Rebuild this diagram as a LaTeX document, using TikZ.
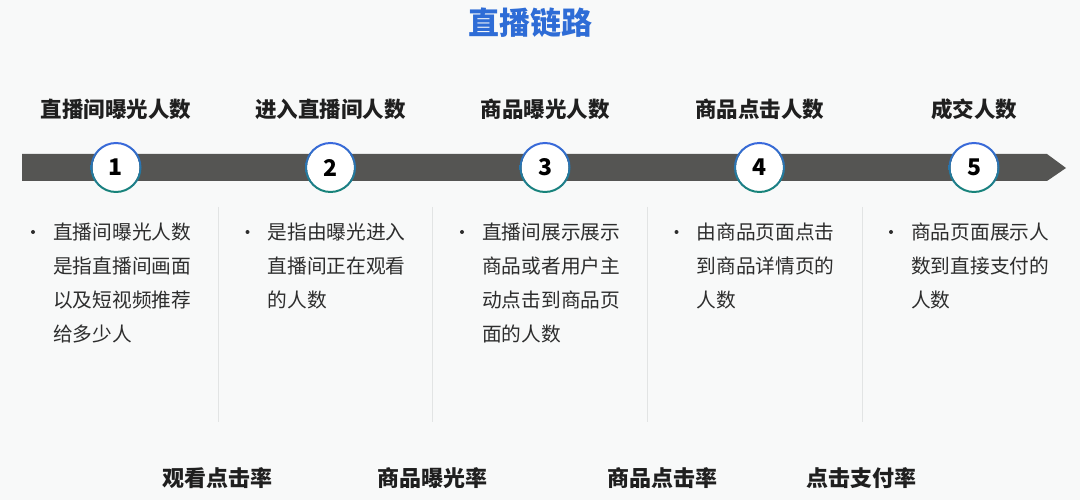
\documentclass[tikz,border=0pt]{standalone}
\usepackage{fontspec}
\setmainfont{Noto Sans CJK SC}
\newfontfamily\nero{Noto Sans CJK SC Black}
\usetikzlibrary{positioning,calc}
\definecolor{sfondo}{RGB}{248,249,249}
\definecolor{barra}{RGB}{85,85,83}
\definecolor{blutitolo}{RGB}{46,108,214}
\definecolor{anelloalto}{RGB}{58,104,222}
\definecolor{anellobasso}{RGB}{22,132,118}
\definecolor{testo}{RGB}{45,45,45}
\definecolor{divisore}{RGB}{226,228,228}

\begin{document}
\begin{tikzpicture}[x=1pt, y=-1pt, node distance=214.5pt, on grid,
	fase/.style={font=\fontsize{21.5}{24}\selectfont\bfseries, text=black!88},
	tappa/.style={circle, fill=white, minimum size=47pt, inner sep=0pt, font=\fontsize{23}{24}\selectfont\bfseries},
	punto/.style={circle, fill=testo, minimum size=4pt, inner sep=0pt},
	descr/.style={anchor=north west, inner sep=0pt, align=left, text width=150pt, text=testo, font=\fontsize{19.7}{34}\selectfont},
	tasso/.style={font=\fontsize{22}{24}\selectfont\nero, text=black!88}]
				\fill[sfondo] (0,0) rectangle (1080,500);
				\node[font=\fontsize{31}{34}\selectfont\bfseries, text=blutitolo] (tit) at (530,23) {直播链路};
				
				% fasi
				\node[fase] (fase1) at (116,109) {直播间曝光人数};
				\node[fase, right=of fase1] (fase2) {进入直播间人数};
				\node[fase, right=of fase2] (fase3) {商品曝光人数};
				\node[fase, right=of fase3] (fase4) {商品点击人数};
				\node[fase, right=of fase4] (fase5) {成交人数};
				
				% barra
				\fill[barra] (22,154) -- (1047,154) -- (1066,168) -- (1047,181) -- (22,181) -- cycle;
				
				% tappe
				\node[tappa, below=58.5pt of fase1] (num1) {1};
				\node[tappa, below=58.5pt of fase2] (num2) {2};
				\node[tappa, below=58.5pt of fase3] (num3) {3};
				\node[tappa, below=58.5pt of fase4] (num4) {4};
				\node[tappa, below=58.5pt of fase5] (num5) {5};
				\shade[even odd rule, top color=anelloalto, bottom color=anellobasso] (num1) circle (25.5pt) (num1) circle (23.5pt);
				\shade[even odd rule, top color=anelloalto, bottom color=anellobasso] (num2) circle (25.5pt) (num2) circle (23.5pt);
				\shade[even odd rule, top color=anelloalto, bottom color=anellobasso] (num3) circle (25.5pt) (num3) circle (23.5pt);
				\shade[even odd rule, top color=anelloalto, bottom color=anellobasso] (num4) circle (25.5pt) (num4) circle (23.5pt);
				\shade[even odd rule, top color=anelloalto, bottom color=anellobasso] (num5) circle (25.5pt) (num5) circle (23.5pt);
				
				% divisori
				\draw[divisore, line width=1pt] (218,207) -- (218,422);
				\draw[divisore, line width=1pt] (432,207) -- (432,422);
				\draw[divisore, line width=1pt] (647,207) -- (647,422);
				\draw[divisore, line width=1pt] (862,207) -- (862,422);
				
				% descrizioni
				\node[punto] (punto1) at ($(num1)+(-83,64.5)$) {};
				\node[descr] (descr1) at ($(num1)+(-63,55.5)$) {直播间曝光人数\\是指直播间画面\\以及短视频推荐\\给多少人};
				\node[punto] (punto2) at ($(num2)+(-83,64.5)$) {};
				\node[descr] (descr2) at ($(num2)+(-63,55.5)$) {是指由曝光进入\\直播间正在观看\\的人数};
				\node[punto] (punto3) at ($(num3)+(-83,64.5)$) {};
				\node[descr] (descr3) at ($(num3)+(-63,55.5)$) {直播间展示展示\\商品或者用户主\\动点击到商品页\\面的人数};
				\node[punto] (punto4) at ($(num4)+(-83,64.5)$) {};
				\node[descr] (descr4) at ($(num4)+(-63,55.5)$) {由商品页面点击\\到商品详情页的\\人数};
				\node[punto] (punto5) at ($(num5)+(-83,64.5)$) {};
				\node[descr] (descr5) at ($(num5)+(-63,55.5)$) {商品页面展示人\\数到直接支付的\\人数};
				
				% tassi
				\node[tasso] (tasso1) at (217,478) {观看点击率};
				\node[tasso] (tasso2) at (432,478) {商品曝光率};
				\node[tasso] (tasso3) at (662,478) {商品点击率};
				\node[tasso] (tasso4) at (861,478) {点击支付率};
			\end{tikzpicture}
\end{document}
